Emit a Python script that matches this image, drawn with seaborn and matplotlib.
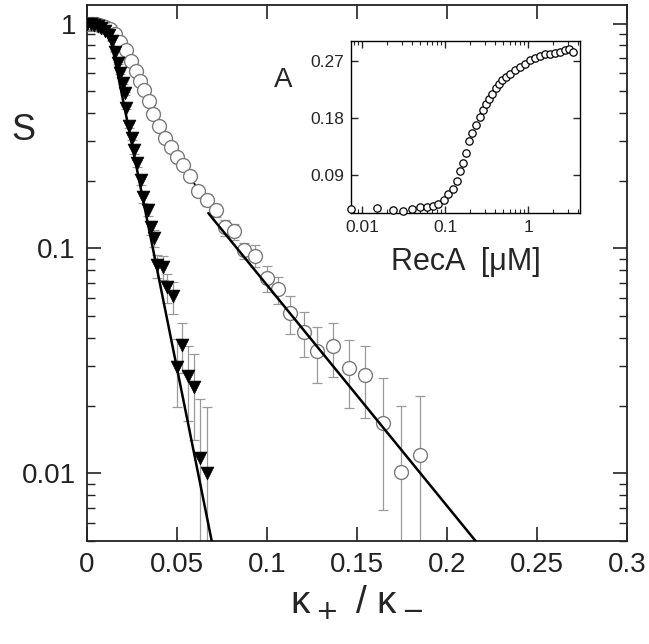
import matplotlib
matplotlib.use('Agg')
import matplotlib.pyplot as plt
import matplotlib.ticker as mticker
import seaborn as sns
import numpy as np
import pandas as pd

# ---- main panel data: survival S vs kappa+/kappa- ----
# open circles
circ_x = [0.0, 0.0017, 0.0033, 0.005, 0.0067, 0.0083, 0.010, 0.0128, 0.0156, 0.0183,
          0.0217, 0.0244, 0.0272, 0.0294, 0.0317, 0.0344, 0.0367, 0.0400, 0.0433, 0.0467,
          0.0500, 0.0533, 0.0572, 0.0617, 0.0667, 0.0717, 0.0767, 0.0817, 0.0872, 0.0933,
          0.1000, 0.1060, 0.1130, 0.1206, 0.1280, 0.1367, 0.1456, 0.1544, 0.1644, 0.1744,
          0.1850]
circ_s = [1.0, 1.0, 1.0, 0.995, 0.99, 0.98, 0.97, 0.95, 0.90, 0.83,
          0.76, 0.685, 0.618, 0.558, 0.509, 0.455, 0.398, 0.352, 0.311, 0.284,
          0.254, 0.234, 0.211, 0.181, 0.165, 0.148, 0.124, 0.119, 0.098, 0.093,
          0.0736, 0.0657, 0.0514, 0.0424, 0.0349, 0.0367, 0.0293, 0.0273, 0.0167, 0.0101,
          0.0121]
circ_err = [0.004, 0.004, 0.004, 0.005, 0.005, 0.005, 0.006, 0.006, 0.006, 0.007,
            0.007, 0.007, 0.008, 0.008, 0.008, 0.008, 0.008, 0.009, 0.009, 0.009,
            0.009, 0.009, 0.009, 0.009, 0.010, 0.010, 0.010, 0.010, 0.008, 0.0103,
            0.0097, 0.0091, 0.0098, 0.0096, 0.0098, 0.0098, 0.0097, 0.0097, 0.0098, 0.0098,
            0.0099]

# filled triangles
tri_x = [0.0, 0.002, 0.004, 0.006, 0.008, 0.010, 0.012, 0.0139, 0.0156, 0.0172,
         0.0183, 0.0200, 0.0211, 0.0217, 0.0233, 0.0250, 0.0261, 0.0278, 0.0300, 0.0311,
         0.0339, 0.0356, 0.0372, 0.0389, 0.0422, 0.0444, 0.0478, 0.0500, 0.0528, 0.0561,
         0.0594, 0.0628, 0.0667]
tri_s = [1.0, 1.0, 0.99, 0.98, 0.96, 0.93, 0.89, 0.840, 0.751, 0.671,
         0.606, 0.547, 0.489, 0.423, 0.352, 0.311, 0.273, 0.239, 0.201, 0.169,
         0.148, 0.124, 0.111, 0.084, 0.0823, 0.0671, 0.0612, 0.0296, 0.0371, 0.027,
         0.0241, 0.0117, 0.0100]
tri_err = [0.004, 0.004, 0.004, 0.005, 0.005, 0.005, 0.006, 0.006, 0.006, 0.007,
           0.007, 0.007, 0.008, 0.008, 0.008, 0.008, 0.009, 0.009, 0.009, 0.009,
           0.009, 0.009, 0.010, 0.010, 0.010, 0.010, 0.010, 0.0099, 0.0093, 0.0100,
           0.0100, 0.0096, 0.0097]

# exponential fits (straight on the log axis), end points
circ_fit_x = [0.0674, 0.225]
circ_fit_s = [0.1436, 0.00407]
tri_fit_x = [0.013, 0.072]
tri_fit_s = [0.869, 0.0039]

x_ticks = [0, 0.05, 0.1, 0.15, 0.2, 0.25, 0.3]
x_tick_labels = ['0', '0.05', '0.1', '0.15', '0.2', '0.25', '0.3']
y_ticks = [1, 0.1, 0.01]
y_tick_labels = ['1', '0.1', '0.01']

# ---- inset data: absorbance vs RecA concentration ----
reca_conc = [0.0075, 0.0153, 0.0234, 0.0315, 0.0397, 0.050, 0.060, 0.071, 0.083, 0.097,
             0.110, 0.124, 0.138, 0.152, 0.166, 0.179, 0.195, 0.213, 0.238, 0.262,
             0.287, 0.315, 0.339, 0.372, 0.408, 0.448, 0.490, 0.548, 0.612, 0.692,
             0.794, 0.912, 1.047, 1.205, 1.383, 1.589, 1.825, 2.098, 2.41, 2.77,
             3.12, 3.48]
reca_abs = [0.0368, 0.0379, 0.0343, 0.0336, 0.0368, 0.0395, 0.0400, 0.0406, 0.0447, 0.051,
            0.060, 0.0684, 0.080, 0.0958, 0.109, 0.1247, 0.1432, 0.1563, 0.1685, 0.1811,
            0.1915, 0.201, 0.2089, 0.2179, 0.2263, 0.2326, 0.2389, 0.2443, 0.2495, 0.2547,
            0.2601, 0.2653, 0.2705, 0.2736, 0.2774, 0.280, 0.281, 0.2826, 0.2842, 0.2863,
            0.2878, 0.2842]
inset_x_ticks = [0.01, 0.1, 1]
inset_x_labels = ['0.01', '0.1', '1']
inset_y_ticks = [0.09, 0.18, 0.27]
inset_y_labels = ['0.09', '0.18', '0.27']

sns.set_style('ticks')
plt.rcParams['font.family'] = ['Liberation Sans', 'DejaVu Sans']

circles = pd.DataFrame({'x': circ_x, 's': circ_s, 'err': circ_err})
triangles = pd.DataFrame({'x': tri_x, 's': tri_s, 'err': tri_err})
reca = pd.DataFrame({'conc': reca_conc, 'A': reca_abs})

fig = plt.figure(figsize=(6.49, 6.44), dpi=100)
ax = fig.add_axes([87 / 649, 103 / 644, 540 / 649, 536 / 644])
ax.set_yscale('log')

# error bars under the markers
ax.errorbar(circles.x, circles.s, yerr=circles.err, fmt='none', ecolor='#9a9a9a',
            elinewidth=0.9, capsize=3.5, capthick=0.9, zorder=1)
ax.errorbar(triangles.x, triangles.s, yerr=triangles.err, fmt='none', ecolor='#9a9a9a',
            elinewidth=0.9, capsize=3.5, capthick=0.9, zorder=1)

# thin curve through the upper circles (mostly hidden by the markers)
upper = circles[circles.x <= 0.0667]
ax.plot(upper.x, upper.s, color='black', lw=1.3, zorder=2)

sns.scatterplot(data=circles, x='x', y='s', ax=ax, marker='o', s=100, color='white',
                edgecolor='#7a7a7a', linewidth=1.0, zorder=3, legend=False)
sns.scatterplot(data=triangles, x='x', y='s', ax=ax, marker='v', s=85, color='black',
                edgecolor='black', linewidth=0.5, zorder=3, legend=False)

sns.lineplot(x=circ_fit_x, y=circ_fit_s, ax=ax, color='black', lw=1.8, estimator=None,
             sort=False, zorder=4)
sns.lineplot(x=tri_fit_x, y=tri_fit_s, ax=ax, color='black', lw=1.8, estimator=None,
             sort=False, zorder=4)

ax.set_xlim(0, 0.3)
ax.set_ylim(0.005, 1.21)
ax.set_xticks(x_ticks)
ax.set_xticklabels(x_tick_labels)
ax.set_yticks(y_ticks)
ax.set_yticklabels(y_tick_labels)
ax.yaxis.set_minor_locator(mticker.LogLocator(base=10, subs=np.arange(2, 10)))
ax.yaxis.set_minor_formatter(mticker.NullFormatter())
ax.xaxis.set_minor_locator(mticker.NullLocator())
ax.tick_params(which='both', direction='in', top=True, right=True, colors='#222222')
ax.tick_params(which='major', length=10, width=1.2, labelsize=20, pad=8)
ax.tick_params(which='minor', length=6, width=1.0)
for sp in ax.spines.values():
    sp.set_linewidth(1.3)
    sp.set_color('#222222')

ax.set_xlabel('\u03ba$_+$ / \u03ba$_-$', fontsize=28)
ax.xaxis.set_label_coords(0.5, -0.115)
ax.xaxis.label.set_va('center')
ax.set_ylabel('S', fontsize=26, rotation=0, va='center', ha='center')
ax.yaxis.set_label_coords(-0.118, 0.765)

# ---- inset ----
ax_in = fig.add_axes([351 / 649, 431 / 644, 229 / 649, 172 / 644])
ax_in.set_xscale('log')
sns.scatterplot(data=reca, x='conc', y='A', ax=ax_in, marker='o', s=28, color='white',
                edgecolor='black', linewidth=0.9, zorder=3, legend=False, clip_on=False)
ax_in.set_xlim(0.0074, 4.2)
ax_in.set_ylim(0.03, 0.301)
ax_in.set_xticks(inset_x_ticks)
ax_in.set_xticklabels(inset_x_labels)
ax_in.set_yticks(inset_y_ticks)
ax_in.set_yticklabels(inset_y_labels)
ax_in.xaxis.set_minor_locator(mticker.LogLocator(base=10, subs=np.arange(2, 10)))
ax_in.xaxis.set_minor_formatter(mticker.NullFormatter())
ax_in.tick_params(which='both', direction='in', top=True, right=True)
ax_in.tick_params(which='major', length=5, width=1.0, labelsize=12.5, pad=5)
ax_in.tick_params(which='minor', length=3, width=0.8)
for sp in ax_in.spines.values():
    sp.set_linewidth(1.0)
    sp.set_color('black')
ax_in.set_xlabel('RecA  [\u03bcM]', fontsize=22)
ax_in.xaxis.set_label_coords(0.5, -0.285)
ax_in.xaxis.label.set_va('center')
ax_in.set_ylabel('A', fontsize=20, rotation=0, va='center', ha='center')
ax_in.yaxis.set_label_coords(-0.297, 0.773)

fig.savefig('out.png', dpi=100)
